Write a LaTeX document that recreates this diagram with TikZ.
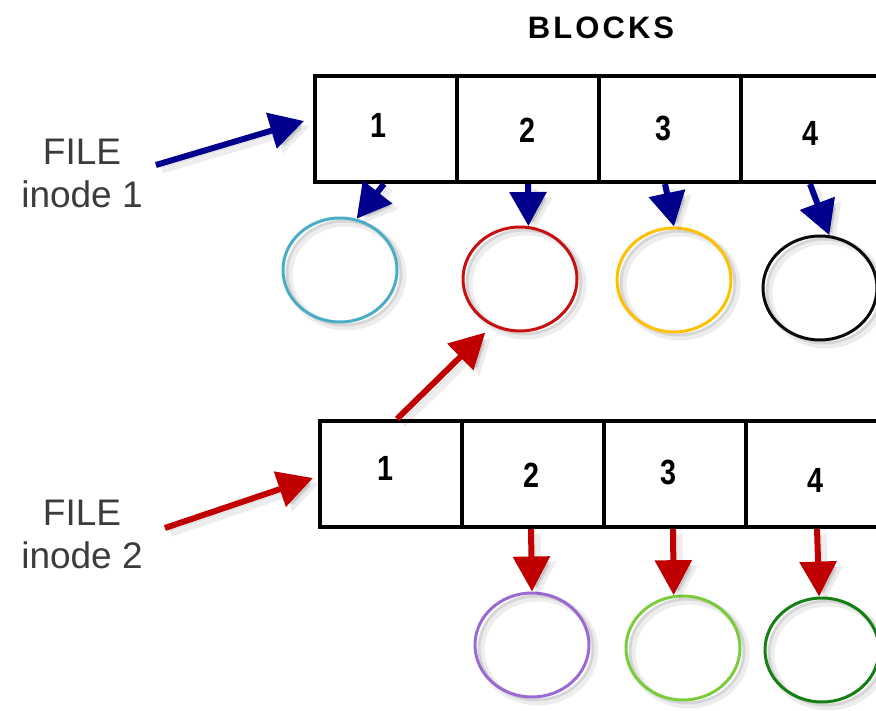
\documentclass[tikz,border=0pt]{standalone}
\usepackage{fontspec}
\setmainfont{Liberation Sans}
\newfontfamily\spacedfont[LetterSpace=10]{Liberation Sans}
\usetikzlibrary{arrows.meta,shapes.geometric}

\definecolor{navyarrow}{RGB}{0,0,140}
\definecolor{redarrow}{RGB}{192,0,0}
\definecolor{labelgray}{RGB}{60,60,60}
\definecolor{ringcyan}{RGB}{75,172,198}
\definecolor{ringred}{RGB}{200,16,16}
\definecolor{ringyellow}{RGB}{255,192,0}
\definecolor{ringblack}{RGB}{10,10,10}
\definecolor{ringpurple}{RGB}{155,105,210}
\definecolor{ringlime}{RGB}{122,204,60}
\definecolor{ringgreen}{RGB}{20,128,20}

\begin{document}
\begin{tikzpicture}[x=1pt,y=-1pt,
  cell/.style={draw, line width=4pt, minimum width=142pt, minimum height=106pt, inner sep=0pt},
  digit/.style={font=\bfseries\fontsize{35}{35}\selectfont, inner sep=0pt, xscale=0.82},
  filelabel/.style={font=\fontsize{37}{43}\selectfont, text=labelgray, align=center, inner sep=4pt},
  softshadow/.style={
    preaction={draw=black, opacity=0.07, line width=7pt, transform canvas={shift={(6pt,-5pt)}}},
    preaction={draw=black, opacity=0.10, transform canvas={shift={(4pt,-3pt)}}}},
  ring/.style={ellipse, draw=#1, line width=3pt, minimum width=114pt, minimum height=104pt, inner sep=0pt, softshadow},
  ptr/.style={line width=6pt, draw=#1, fill=#1, -{Triangle[length=34pt,width=36pt]}, softshadow},
  bigptr/.style={line width=6pt, draw=#1, fill=#1, -{Triangle[length=35pt,width=36pt]}, softshadow}
]
\useasboundingbox (0,0) rectangle (876,711);

% heading
\node[font=\spacedfont\bfseries\fontsize{31}{31}\selectfont] (head) at (601,28) {BLOCKS};

% data blocks on disk
\node[ring=ringcyan]   (d1) at (340,270) {};
\node[ring=ringred]    (d2) at (520,279) {};
\node[ring=ringyellow] (d3) at (674,280) {};
\node[ring=ringblack]  (d4) at (820,288) {};
\node[ring=ringpurple] (e2) at (532,645) {};
\node[ring=ringlime]   (e3) at (683,648) {};
\node[ring=ringgreen]  (e4) at (822,650) {};

% block table of the first file
\node[cell] (a1) at (386,129) {};
\node[cell] (a2) at (528,129) {};
\node[cell] (a3) at (670,129) {};
\node[cell] (a4) at (812,129) {};
\node[digit] (na1) at (378,125) {1};
\node[digit] (na2) at (527,130) {2};
\node[digit] (na3) at (663,128) {3};
\node[digit] (na4) at (810,133) {4};

% block table of the second file
\node[cell] (b1) at (391,474) {};
\node[cell] (b2) at (533,474) {};
\node[cell] (b3) at (675,474) {};
\node[cell] (b4) at (817,474) {};
\node[digit] (nb1) at (385,468) {1};
\node[digit] (nb2) at (531,475) {2};
\node[digit] (nb3) at (668,472) {3};
\node[digit] (nb4) at (815,480) {4};

% file labels
\node[filelabel] (f1) at (82,173) {FILE\\inode 1};
\node[filelabel] (f2) at (82,534) {FILE\\inode 2};

% pointers of the first file
\draw[ptr=navyarrow] ([shift={(9,-8)}]f1.east) -- ([shift={(-9,-8)}]a1.west);
\draw[ptr=navyarrow] ([xshift=-2pt]a1.south) -- (d1.72);
\draw[ptr=navyarrow] (a2.south) -- (d2.81);
\draw[ptr=navyarrow] ([xshift=-5pt]a3.south) -- (d3.north);
\draw[ptr=navyarrow] ([xshift=-2pt]a4.south) -- (d4.80);

% pointers of the second file
\draw[bigptr=redarrow] ([shift={(18,-6)}]f2.east) -- ([shift={(-5,4)}]b1.west);
\draw[bigptr=redarrow] ([xshift=6pt]b1.north) -- ([shift={(-4,8)}]d2.236);
\draw[bigptr=redarrow] ([xshift=-2pt]b2.south) -- (e2.north);
\draw[bigptr=redarrow] ([xshift=-2pt]b3.south) -- (e3.100);
\draw[bigptr=redarrow] (b4.south) -- (e4.93);
\end{tikzpicture}
\end{document}
